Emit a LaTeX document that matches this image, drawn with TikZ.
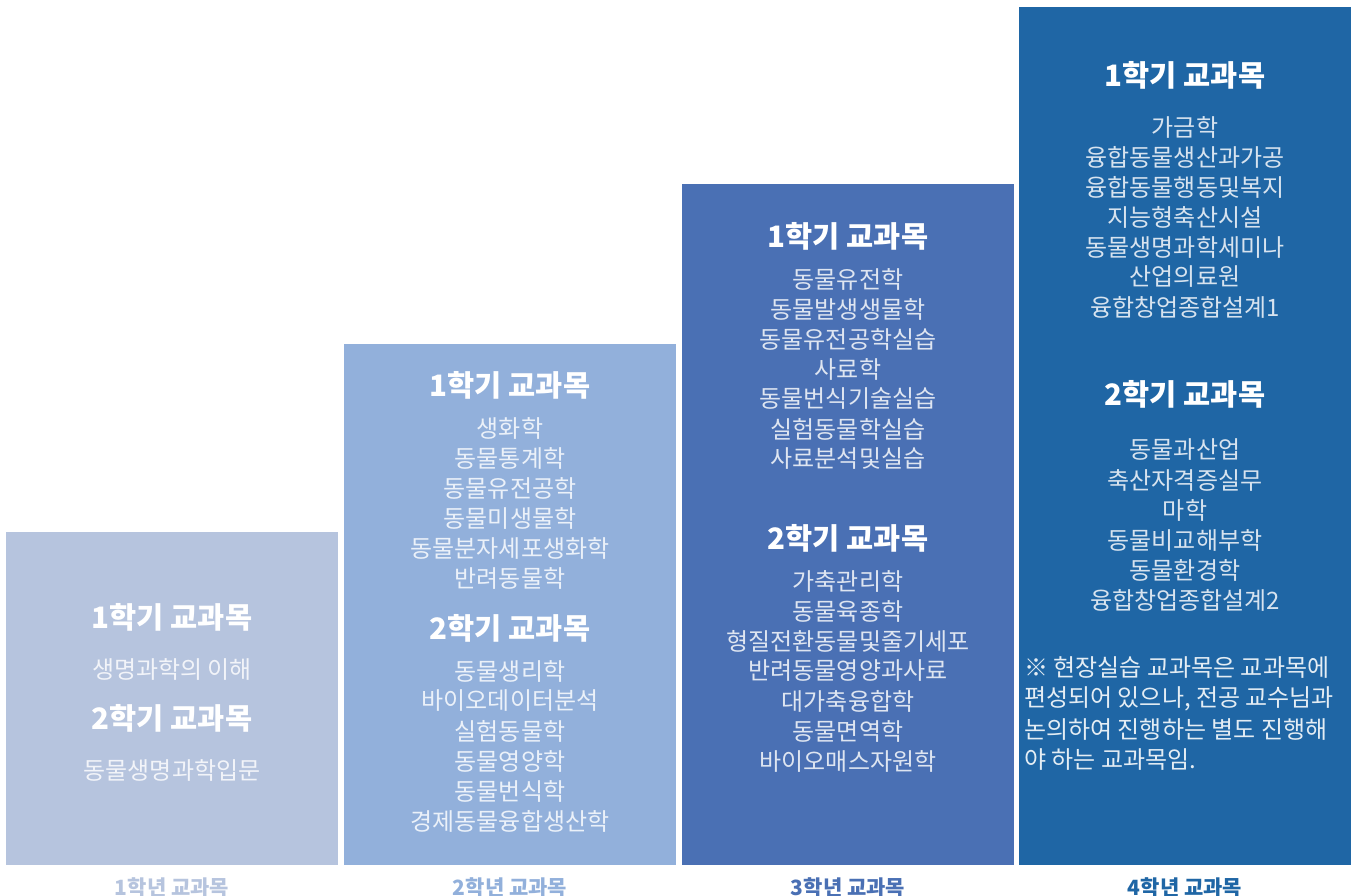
\documentclass[tikz,border=0pt]{standalone}
\usepackage{fontspec}
\newfontfamily\kr{Noto Sans CJK KR}
\definecolor{cA}{HTML}{B6C4DE}
\definecolor{cB}{HTML}{92B0DB}
\definecolor{cC}{HTML}{4A70B4}
\definecolor{cD}{HTML}{1F66A5}
\tikzset{
  col/.style={fill=#1, draw=none},
  head/.style={text=white, font=\kr\bfseries\fontsize{29.5}{32}\selectfont, inner sep=0pt, anchor=center},
  item/.style={text=white!82!#1, font=\kr\fontsize{24}{28}\selectfont, inner sep=0pt, anchor=center},
  note/.style={text=white!88!cD, font=\kr\fontsize{24}{28}\selectfont, inner sep=0pt, anchor=west},
  yearlbl/.style={text=#1, font=\kr\bfseries\fontsize{21}{24}\selectfont, inner sep=0pt, anchor=base}
}
\begin{document}
\begin{tikzpicture}[x=1pt,y=-1pt]
\useasboundingbox (0,0) rectangle (1354,896);
\clip (0,0) rectangle (1354,896);
\fill[white] (0,0) rectangle (1354,896);
% columns
\path[col=cA] (6,532) rectangle (338,865);
\path[col=cB] (344,344) rectangle (676,865);
\path[col=cC] (682,184) rectangle (1014,865);
\path[col=cD] (1019,7) rectangle (1351,865);
% year 1
\node[head] (y1h1) at (172,617) {1학기 교과목};
\node[item=cA] (y1a1) at (172,669) {생명과학의 이해};
\node[head] (y1h2) at (172,718) {2학기 교과목};
\node[item=cA] (y1b1) at (172,770) {동물생명과학입문};
% year 2
\node[head] (y2h1) at (510,385) {1학기 교과목};
\foreach \t [count=\i] in {생화학,동물통계학,동물유전공학,동물미생물학,동물분자세포생화학,반려동물학}
  \node[item=cB] (y2a\i) at (510,{428+30*(\i-1)}) {\t};
\node[head] (y2h2) at (510,628) {2학기 교과목};
\foreach \t [count=\i] in {동물생리학,바이오데이터분석,실험동물학,동물영양학,동물번식학,경제동물융합생산학}
  \node[item=cB] (y2b\i) at (510,{671+30*(\i-1)}) {\t};
% year 3
\node[head] (y3h1) at (848,236) {1학기 교과목};
\foreach \t [count=\i] in {동물유전학,동물발생생물학,동물유전공학실습,사료학,동물번식기술실습,실험동물학실습,사료분석및실습}
  \node[item=cC] (y3a\i) at (848,{279+30*(\i-1)}) {\t};
\node[head] (y3h2) at (848,538) {2학기 교과목};
\foreach \t [count=\i] in {가축관리학,동물육종학,형질전환동물및줄기세포,반려동물영양과사료,대가축융합학,동물면역학,바이오매스자원학}
  \node[item=cC] (y3b\i) at (848,{581+30*(\i-1)}) {\t};
% year 4
\node[head] (y4h1) at (1185,75) {1학기 교과목};
\foreach \t [count=\i] in {가금학,융합동물생산과가공,융합동물행동및복지,지능형축산시설,동물생명과학세미나,산업의료원,융합창업종합설계1}
  \node[item=cD] (y4a\i) at (1185,{127+30*(\i-1)}) {\t};
\node[head] (y4h2) at (1185,394) {2학기 교과목};
\foreach \t [count=\i] in {동물과산업,축산자격증실무,마학,동물비교해부학,동물환경학,융합창업종합설계2}
  \node[item=cD] (y4b\i) at (1185,{450+30*(\i-1)}) {\t};
% note
\node[note] (n1) at (1024,668) {※ 현장실습 교과목은 교과목에};
\node[note] (n2) at (1024,699) {편성되어 있으나, 전공 교수님과};
\node[note] (n3) at (1024,730) {논의하여 진행하는 별도 진행해};
\node[note] (n4) at (1024,760) {야 하는 교과목임.};
% year labels (cut at bottom, as in the reference)
\node[yearlbl=cA] (l1) at (172,895) {1학년 교과목};
\node[yearlbl=cB] (l2) at (510,895) {2학년 교과목};
\node[yearlbl=cC] (l3) at (848,895) {3학년 교과목};
\node[yearlbl=cD] (l4) at (1185,895) {4학년 교과목};
\end{tikzpicture}
\end{document}
